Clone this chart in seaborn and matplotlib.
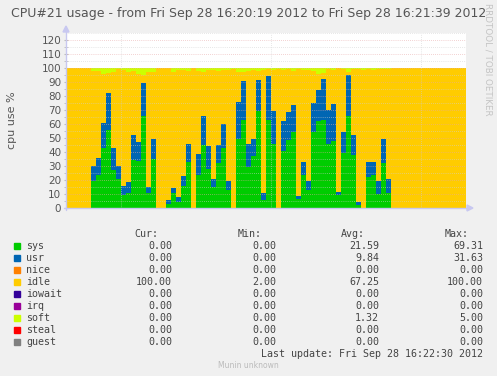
import numpy as np
import pandas as pd
import matplotlib
matplotlib.use('Agg')
import matplotlib.pyplot as plt
import matplotlib.patches as patches
from matplotlib.lines import Line2D
import seaborn as sns

# one sample per second, 16:20:19 -> 16:21:39
seconds = np.arange(80)
sys_pct = [0, 0, 0, 0, 0, 19.5, 23.5, 43, 56, 27, 21, 9.5, 10.5, 34, 33.5,
           66, 11, 35, 0, 0, 3, 10.5, 4.5, 16, 33, 0, 23.5, 45, 28, 15,
           32, 43, 13, 0, 49, 63, 29, 37, 69, 6, 63, 46, 0, 41, 48.5,
           54.5, 6.5, 23.5, 13, 54, 62, 63, 46, 48, 9, 39.5, 65.5, 38, 2, 0,
           22, 23.5, 10, 32, 10.5] + [0] * 15
usr_pct = [0, 0, 0, 0, 0, 10.5, 12, 18, 26, 16, 9, 6, 8, 18, 14,
           23, 4, 14, 0, 0, 3, 3.5, 3.5, 7, 13, 0, 15, 21, 16, 5.5,
           13, 17, 6, 0, 27, 28, 17, 12, 22.5, 5, 31.5, 23, 0, 21, 20,
           19, 2, 9.5, 6.5, 21, 22, 29, 24, 26, 2.5, 15, 29.5, 14, 2, 0,
           11, 9.5, 9, 17, 10.5] + [0] * 15
soft_pct = [0, 0, 0, 0, 0, 2, 2, 4, 3.5, 2.5, 1, 1.5, 2.5, 2, 4,
            5, 3, 3, 0, 0, 0, 2.5, 1.5, 1.5, 2, 0, 2, 2.5, 1.5, 1.5,
            2, 1.5, 1.5, 1, 2.5, 3, 2, 1.5, 2, 1.5, 1, 1.5, 1, 1.5, 1,
            2, 1, 1.5, 1.5, 2, 4, 3.5, 1, 1.5, 0, 1, 3, 1, 1, 1.5,
            0.5, 1.5, 1, 1, 1] + [0] * 15
idle_pct = [100 - a - b - c for a, b, c in zip(sys_pct, usr_pct, soft_pct)]

names = ['sys', 'usr', 'nice', 'idle', 'iowait', 'irq', 'soft', 'steal', 'guest']
colors = ['#00CC00', '#0066B3', '#FF8000', '#FFCC00', '#330099',
          '#990099', '#CCFF00', '#FF0000', '#808080']
cur_vals = ['0.00', '0.00', '0.00', '100.00', '0.00', '0.00', '0.00', '0.00', '0.00']
min_vals = ['0.00', '0.00', '0.00', '2.00', '0.00', '0.00', '0.00', '0.00', '0.00']
avg_vals = ['21.59', '9.84', '0.00', '67.25', '0.00', '0.00', '1.32', '0.00', '0.00']
max_vals = ['69.31', '31.63', '0.00', '100.00', '0.00', '0.00', '5.00', '0.00', '0.00']
y_ticks = list(range(0, 121, 10))

title = 'CPU#21 usage - from Fri Sep 28 16:20:19 2012 to Fri Sep 28 16:21:39 2012'
last_update = 'Last update: Fri Sep 28 16:22:30 2012'

# long table for the stacked step areas
series = {'sys': sys_pct, 'usr': usr_pct, 'idle': idle_pct, 'soft': soft_pct}
rows = []
for key, vals in series.items():
    for t, v in zip(seconds, vals):
        rows.append({'t': t + 0.5, 'series': key, 'pct': v})
df = pd.DataFrame(rows)
pal = dict(zip(names, colors))

sns.set_style('white')
plt.rcParams['font.family'] = ['DejaVu Sans']

W, H = 497, 376
fig = plt.figure(figsize=(W / 100, H / 100), dpi=100, facecolor='#F0F0F0')


def fx(x):
    return x / W


def fy(y):
    return 1 - y / H


ax = fig.add_axes([fx(66), fy(208), 400 / W, 175 / H])
ax.set_facecolor('white')

# seaborn stacks the last hue level at the bottom
sns.histplot(data=df, x='t', weights='pct', hue='series',
             hue_order=['soft', 'idle', 'usr', 'sys'], palette=pal,
             multiple='stack', binwidth=1, binrange=(0, len(seconds)),
             element='step', fill=True, linewidth=0, alpha=1,
             legend=False, ax=ax)

ax.set_xlim(0, len(seconds))
ax.set_ylim(0, 125)
for s in ax.spines.values():
    s.set_visible(False)

# grid drawn over the data, rrdtool style
for v in range(5, 126, 5):
    c = '#E8A8A8' if v % 10 == 0 else '#D0D0D0'
    ax.axhline(v, color=c, lw=0.5, ls=(0, (1, 2)), zorder=5)
for t in [11, 41, 71]:
    ax.axvline(t, color='#D0D0D0', lw=0.5, ls=(0, (1, 2)), zorder=5)

ax.set_xticks([])
ax.set_yticks(y_ticks)
ax.set_yticks(range(5, 125, 10), minor=True)
ax.set_yticklabels([str(v) for v in y_ticks], fontsize=7.5, color='#555555')
ax.tick_params(axis='y', which='both', length=3, color='#BBBBBB', pad=2, direction='inout', left=True)
ax.set_xlabel('')
ax.set_ylabel('')

# axes with arrows
ac = '#C8C8F0'
fig.add_artist(Line2D([fx(66), fx(66)], [fy(210), fy(30)], color=ac, lw=1))
fig.add_artist(Line2D([fx(64), fx(468)], [fy(208), fy(208)], color=ac, lw=1))
fig.add_artist(patches.Polygon([[fx(63), fy(32)], [fx(69), fy(32)], [fx(66), fy(26)]],
                               closed=True, color=ac, transform=fig.transFigure))
fig.add_artist(patches.Polygon([[fx(467), fy(205)], [fx(467), fy(211)], [fx(473), fy(208)]],
                               closed=True, color=ac, transform=fig.transFigure))

fig.text(fx(249), fy(13), title, ha='center', va='center', fontsize=9, color='#555555')
fig.text(fx(12), fy(120), 'cpu use %', rotation=90, ha='center', va='center',
         fontsize=8, color='#555555')
fig.text(fx(488), fy(3), 'RRDTOOL / TOBI OETIKER', rotation=270, ha='center', va='top',
         fontsize=6.3, color='#C4C4C4')

# legend table
mono = dict(family='DejaVu Sans Mono', fontsize=7.2, color='#444444')
col_right = [172, 276, 379, 483]
headers = ['Cur:', 'Min:', 'Avg:', 'Max:']
for xr, h in zip(col_right, headers):
    fig.text(fx(xr - 14), fy(234), h, ha='right', va='center', **mono)
for i, name in enumerate(names):
    y = 246 + 12 * i
    fig.add_artist(patches.Rectangle((fx(14), fy(y + 3)), 6 / W, 6 / H,
                                     color=colors[i], transform=fig.transFigure))
    fig.text(fx(26), fy(y), name, ha='left', va='center', **mono)
    for xr, vals in zip(col_right, [cur_vals, min_vals, avg_vals, max_vals]):
        fig.text(fx(xr), fy(y), vals[i], ha='right', va='center', **mono)
fig.text(fx(483), fy(354), last_update, ha='right', va='center', **mono)
fig.text(fx(248), fy(366), 'Munin unknown', ha='center', va='center',
         fontsize=5.5, color='#BBBBBB')

fig.savefig('out.png', dpi=100, facecolor=fig.get_facecolor())
